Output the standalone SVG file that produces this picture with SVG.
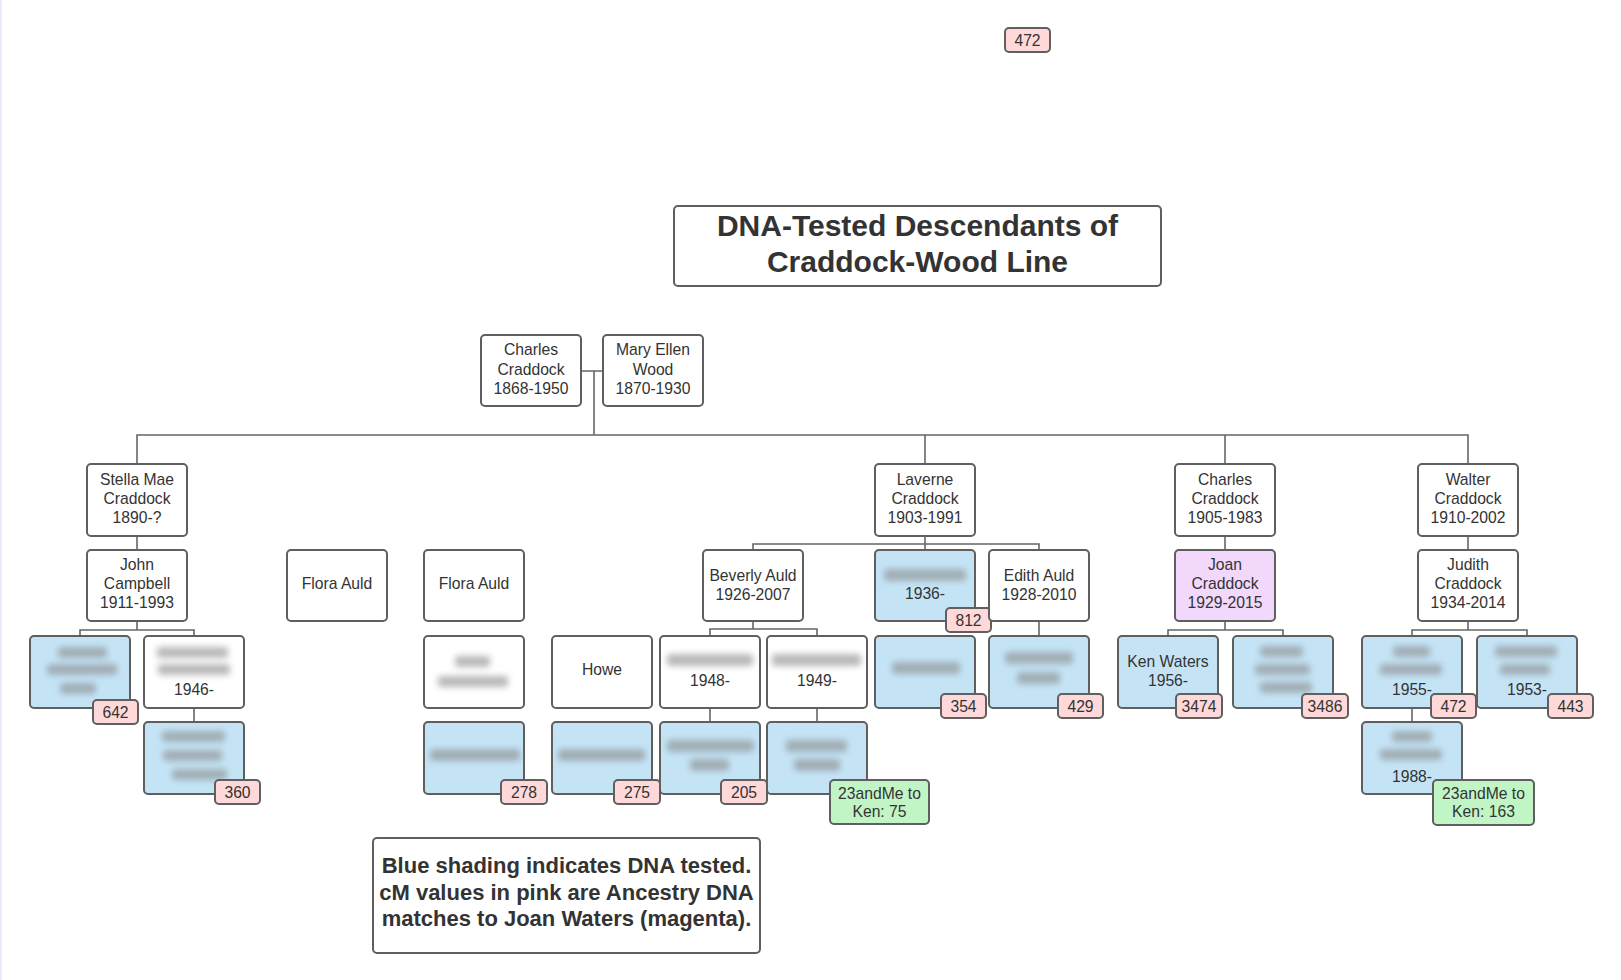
<svg xmlns="http://www.w3.org/2000/svg" width="1621" height="980" viewBox="0 0 1621 980">
<defs>
<filter id="blur" x="-40%" y="-150%" width="180%" height="400%"><feGaussianBlur stdDeviation="3.2"/></filter>
<style>
.box{stroke:#5f5f5f;stroke-width:2;}
.w{fill:#ffffff;}
.b{fill:#c4e4f6;}
.p{fill:#ffd9d9;}
.g{fill:#c2f5c6;}
.m{fill:#f2d8fb;}
.t{font-family:"Liberation Sans",Arial,sans-serif;font-size:15.7px;fill:#333;text-anchor:middle;}
.title{font-family:"Liberation Sans",Arial,sans-serif;font-size:30px;font-weight:bold;fill:#333;text-anchor:middle;}
.note{font-family:"Liberation Sans",Arial,sans-serif;font-size:22px;font-weight:bold;fill:#333;text-anchor:middle;}
.bl{fill:#8a8a8a;opacity:0.6;filter:url(#blur);}
.c{fill:none;stroke:#666;stroke-width:1.6;}
</style>
</defs>
<rect x="0" y="0" width="1621" height="980" fill="#ffffff"/>
<rect x="0" y="0" width="2" height="980" fill="#e6edf8"/>

<g id="connectors">
<path class="c" d="M581 371 H603 M594 371 V435"/>
<path class="c" d="M137 464 V435 H1468 V464 M925 435 V464 M1225 435 V464"/>
<path class="c" d="M137 536 V550 M137 621 V630 M80 636 V630 H194 V636 M194 708 V722"/>
<path class="c" d="M925 536 V544 M753 550 V544 H1039 V550 M925 544 V550"/>
<path class="c" d="M753 621 V629 M710 636 V629 H817 V636 M710 708 V722 M817 708 V722"/>
<path class="c" d="M1039 621 V636"/>
<path class="c" d="M1225 536 V550 M1225 621 V630 M1168 636 V630 H1283 V636"/>
<path class="c" d="M1468 536 V550 M1468 621 V630 M1412 636 V630 H1527 V636 M1412 708 V722"/>
</g>

<g id="badge-top-472"><rect class="box p" x="1005" y="28" width="45" height="24" rx="4"/><text class="t" x="1027.5" y="45.5">472</text></g>

<g id="title"><rect class="box w" x="674" y="206" width="487" height="80" rx="4"/>
<text class="title" x="917.5" y="236">DNA-Tested Descendants of</text>
<text class="title" x="917.5" y="272">Craddock-Wood Line</text></g>

<g id="charles-1868"><rect class="box w" x="481" y="335" width="100" height="71" rx="4"/>
<text class="t" x="531" y="355">Charles</text><text class="t" x="531" y="374.5">Craddock</text><text class="t" x="531" y="393.5">1868-1950</text></g>
<g id="mary-ellen"><rect class="box w" x="603" y="335" width="100" height="71" rx="4"/>
<text class="t" x="653" y="355">Mary Ellen</text><text class="t" x="653" y="374.5">Wood</text><text class="t" x="653" y="393.5">1870-1930</text></g>

<g id="stella"><rect class="box w" x="87" y="464" width="100" height="72" rx="4"/>
<text class="t" x="137" y="485">Stella Mae</text><text class="t" x="137" y="504">Craddock</text><text class="t" x="137" y="523">1890-?</text></g>
<g id="laverne"><rect class="box w" x="875" y="464" width="100" height="72" rx="4"/>
<text class="t" x="925" y="485">Laverne</text><text class="t" x="925" y="504">Craddock</text><text class="t" x="925" y="523">1903-1991</text></g>
<g id="charles-1905"><rect class="box w" x="1175" y="464" width="100" height="72" rx="4"/>
<text class="t" x="1225" y="485">Charles</text><text class="t" x="1225" y="504">Craddock</text><text class="t" x="1225" y="523">1905-1983</text></g>
<g id="walter"><rect class="box w" x="1418" y="464" width="100" height="72" rx="4"/>
<text class="t" x="1468" y="485">Walter</text><text class="t" x="1468" y="504">Craddock</text><text class="t" x="1468" y="523">1910-2002</text></g>

<g id="john"><rect class="box w" x="87" y="550" width="100" height="71" rx="4"/>
<text class="t" x="137" y="570">John</text><text class="t" x="137" y="589">Campbell</text><text class="t" x="137" y="608">1911-1993</text></g>
<g id="flora-1"><rect class="box w" x="287" y="550" width="100" height="71" rx="4"/>
<text class="t" x="337" y="588.5">Flora Auld</text></g>
<g id="flora-2"><rect class="box w" x="424" y="550" width="100" height="71" rx="4"/>
<text class="t" x="474" y="588.5">Flora Auld</text></g>
<g id="beverly"><rect class="box w" x="703" y="550" width="100" height="71" rx="4"/>
<text class="t" x="753" y="580.5">Beverly Auld</text><text class="t" x="753" y="600">1926-2007</text></g>
<g id="auld-1936"><rect class="box b" x="875" y="550" width="100" height="71" rx="4"/>
<rect class="bl" x="884" y="569" width="82" height="12" rx="3"/>
<text class="t" x="925" y="599">1936-</text>
<rect class="box p" x="946" y="608" width="45" height="24" rx="4"/><text class="t" x="968.5" y="625.5">812</text></g>
<g id="edith"><rect class="box w" x="989" y="550" width="100" height="71" rx="4"/>
<text class="t" x="1039" y="580.5">Edith Auld</text><text class="t" x="1039" y="600">1928-2010</text></g>
<g id="joan"><rect class="box m" x="1175" y="550" width="100" height="71" rx="4"/>
<text class="t" x="1225" y="570">Joan</text><text class="t" x="1225" y="589">Craddock</text><text class="t" x="1225" y="608">1929-2015</text></g>
<g id="judith"><rect class="box w" x="1418" y="550" width="100" height="71" rx="4"/>
<text class="t" x="1468" y="570">Judith</text><text class="t" x="1468" y="589">Craddock</text><text class="t" x="1468" y="608">1934-2014</text></g>

<g id="campbell-642"><rect class="box b" x="30" y="636" width="100" height="72" rx="4"/>
<rect class="bl" x="58" y="647" width="49" height="11" rx="3"/>
<rect class="bl" x="47" y="664" width="70" height="11" rx="3"/>
<rect class="bl" x="60" y="683" width="36" height="11" rx="3"/>
<rect class="box p" x="93" y="700" width="45" height="24" rx="4"/><text class="t" x="115.5" y="717.5">642</text></g>
<g id="campbell-1946"><rect class="box w" x="144" y="636" width="100" height="72" rx="4"/>
<rect class="bl" x="157" y="647" width="71" height="11" rx="3"/>
<rect class="bl" x="158" y="664" width="72" height="11" rx="3"/>
<text class="t" x="194" y="694.5">1946-</text></g>
<g id="lynn"><rect class="box w" x="424" y="636" width="100" height="72" rx="4"/>
<rect class="bl" x="455" y="656" width="35" height="11" rx="3"/>
<rect class="bl" x="438" y="676" width="70" height="11" rx="3"/></g>
<g id="howe"><rect class="box w" x="552" y="636" width="100" height="72" rx="4"/>
<text class="t" x="602" y="674.5">Howe</text></g>
<g id="howe-1948"><rect class="box w" x="660" y="636" width="100" height="72" rx="4"/>
<rect class="bl" x="667" y="654" width="86" height="12" rx="3"/>
<text class="t" x="710" y="685.5">1948-</text></g>
<g id="howe-1949"><rect class="box w" x="767" y="636" width="100" height="72" rx="4"/>
<rect class="bl" x="772" y="654" width="89" height="12" rx="3"/>
<text class="t" x="817" y="685.5">1949-</text></g>
<g id="auld-354"><rect class="box b" x="875" y="636" width="100" height="72" rx="4"/>
<rect class="bl" x="892" y="662" width="68" height="12" rx="3"/>
<rect class="box p" x="941" y="694" width="45" height="24" rx="4"/><text class="t" x="963.5" y="711.5">354</text></g>
<g id="auld-429"><rect class="box b" x="989" y="636" width="100" height="72" rx="4"/>
<rect class="bl" x="1005" y="652" width="68" height="12" rx="3"/>
<rect class="bl" x="1017" y="672" width="43" height="12" rx="3"/>
<rect class="box p" x="1058" y="694" width="45" height="24" rx="4"/><text class="t" x="1080.5" y="711.5">429</text></g>
<g id="ken"><rect class="box b" x="1118" y="636" width="100" height="72" rx="4"/>
<text class="t" x="1168" y="666.5">Ken Waters</text><text class="t" x="1168" y="685.5">1956-</text>
<rect class="box p" x="1176" y="694" width="46" height="24" rx="4"/><text class="t" x="1199" y="711.5">3474</text></g>
<g id="waters-3486"><rect class="box b" x="1233" y="636" width="100" height="72" rx="4"/>
<rect class="bl" x="1260" y="646" width="43" height="11" rx="3"/>
<rect class="bl" x="1255" y="664" width="55" height="11" rx="3"/>
<rect class="bl" x="1260" y="682" width="52" height="11" rx="3"/>
<rect class="box p" x="1302" y="694" width="46" height="24" rx="4"/><text class="t" x="1325" y="711.5">3486</text></g>
<g id="judith-1955"><rect class="box b" x="1362" y="636" width="100" height="72" rx="4"/>
<rect class="bl" x="1393" y="646" width="37" height="11" rx="3"/>
<rect class="bl" x="1380" y="664" width="62" height="11" rx="3"/>
<text class="t" x="1412" y="694.5">1955-</text>
<rect class="box p" x="1431" y="694" width="45" height="24" rx="4"/><text class="t" x="1453.5" y="711.5">472</text></g>
<g id="judith-1953"><rect class="box b" x="1477" y="636" width="100" height="72" rx="4"/>
<rect class="bl" x="1495" y="646" width="62" height="11" rx="3"/>
<rect class="bl" x="1500" y="664" width="50" height="11" rx="3"/>
<text class="t" x="1527" y="694.5">1953-</text>
<rect class="box p" x="1548" y="694" width="45" height="24" rx="4"/><text class="t" x="1570.5" y="711.5">443</text></g>

<g id="campbell-360"><rect class="box b" x="144" y="722" width="100" height="72" rx="4"/>
<rect class="bl" x="162" y="731" width="63" height="11" rx="3"/>
<rect class="bl" x="163" y="750" width="59" height="11" rx="3"/>
<rect class="bl" x="172" y="769" width="55" height="11" rx="3"/>
<rect class="box p" x="215" y="780" width="45" height="24" rx="4"/><text class="t" x="237.5" y="797.5">360</text></g>
<g id="lynn-278"><rect class="box b" x="424" y="722" width="100" height="72" rx="4"/>
<rect class="bl" x="430" y="749" width="90" height="12" rx="3"/>
<rect class="box p" x="501" y="780" width="46" height="24" rx="4"/><text class="t" x="524" y="797.5">278</text></g>
<g id="howe-275"><rect class="box b" x="552" y="722" width="100" height="72" rx="4"/>
<rect class="bl" x="558" y="749" width="87" height="12" rx="3"/>
<rect class="box p" x="614" y="780" width="46" height="24" rx="4"/><text class="t" x="637" y="797.5">275</text></g>
<g id="howe-205"><rect class="box b" x="660" y="722" width="100" height="72" rx="4"/>
<rect class="bl" x="667" y="740" width="87" height="12" rx="3"/>
<rect class="bl" x="690" y="759" width="39" height="12" rx="3"/>
<rect class="box p" x="721" y="780" width="46" height="24" rx="4"/><text class="t" x="744" y="797.5">205</text></g>
<g id="howe-23andme"><rect class="box b" x="767" y="722" width="100" height="72" rx="4"/>
<rect class="bl" x="786" y="740" width="61" height="12" rx="3"/>
<rect class="bl" x="794" y="759" width="46" height="12" rx="3"/>
<rect class="box g" x="830" y="780" width="99" height="44" rx="4"/>
<text class="t" x="879.5" y="798.5">23andMe to</text><text class="t" x="879.5" y="817">Ken: 75</text></g>
<g id="judith-1988"><rect class="box b" x="1362" y="722" width="100" height="72" rx="4"/>
<rect class="bl" x="1392" y="731" width="40" height="11" rx="3"/>
<rect class="bl" x="1380" y="749" width="62" height="11" rx="3"/>
<text class="t" x="1412" y="781.5">1988-</text>
<rect class="box g" x="1433" y="780" width="101" height="45" rx="4"/>
<text class="t" x="1483.5" y="798.5">23andMe to</text><text class="t" x="1483.5" y="817">Ken: 163</text></g>

<g id="legend"><rect class="box w" x="373" y="838" width="387" height="115" rx="4"/>
<text class="note" x="566.5" y="873">Blue shading indicates DNA tested.</text>
<text class="note" x="566.5" y="900">cM values in pink are Ancestry DNA</text>
<text class="note" x="566.5" y="926">matches to Joan Waters (magenta).</text></g>
</svg>
